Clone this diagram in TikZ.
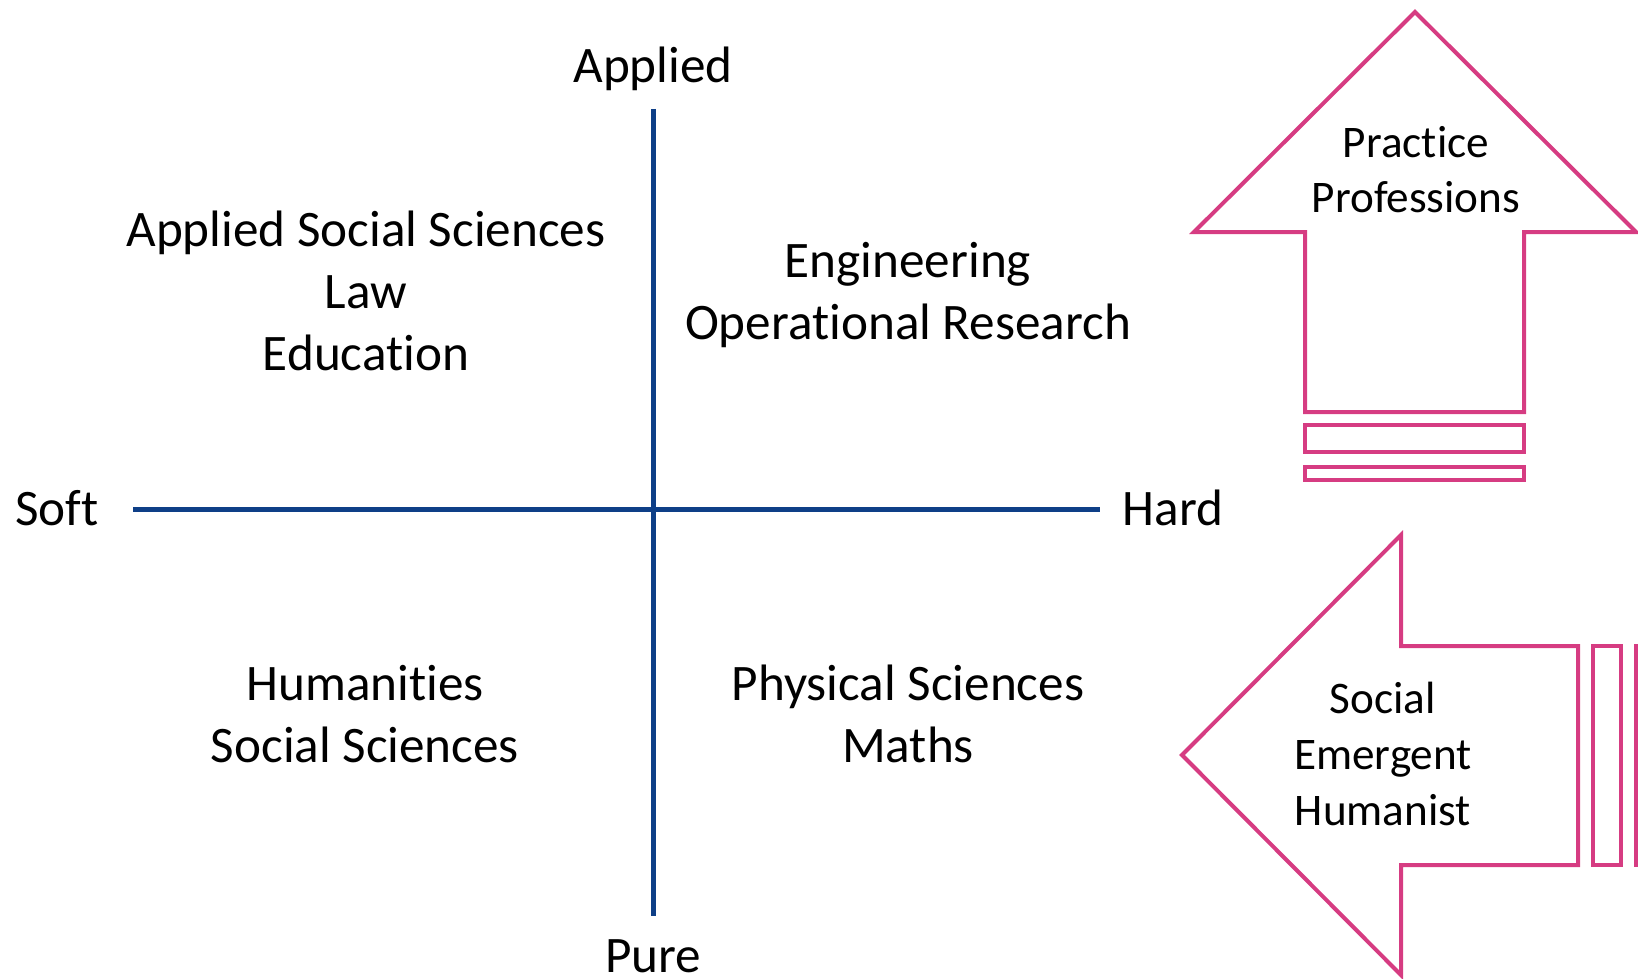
\documentclass[tikz,border=0pt]{standalone}
\usepackage{fontspec}
\setmainfont{Carlito}[Ligatures=NoCommon]
\usetikzlibrary{positioning}

\definecolor{axisblue}{RGB}{14,63,135}
\definecolor{arrowpink}{RGB}{214,60,130}

\tikzset{
  axis/.style={line width=2.5pt, draw=axisblue},
  label/.style={font=\fontsize{25.6}{31}\selectfont, align=center, anchor=base, inner sep=0pt},
  arrowbox/.style={line width=2pt, draw=arrowpink, line join=miter},
  arrowtext/.style={font=\fontsize{22.6}{28}\selectfont, align=center, anchor=base, inner sep=0pt}
}

\begin{document}
\begin{tikzpicture}[x=0.5pt, y=-0.5pt]
  \useasboundingbox (0,0) rectangle (1638,979);

  % axis ends
  \coordinate (top) at (653,109);
  \coordinate (bottom) at (653,916);
  \coordinate (left) at (133,509);
  \coordinate (right) at (1100,509);
  \draw[axis] (top) -- (bottom);
  \draw[axis] (left) -- (right);

  \node[label] (applied) at (653,83) {Applied};
  \node[label] (pure) at (653,972) {Pure};
  \node[label] (soft) at (57,525) {Soft};
  \node[label] (hard) at (1173,525) {Hard};

  % quadrants
  \node[label] (ulq) at (366,370) {Applied Social Sciences\\Law\\Education};
  \node[label] (urq) at (908,339) {Engineering\\Operational Research};
  \node[label] (llq) at (365,762) {Humanities\\Social Sciences};
  \node[label] (lrq) at (908,762) {Physical Sciences\\Maths};

  % striped up arrow
  \draw[arrowbox] (1415,12) -- (1636,232) -- (1524,232) -- (1524,412)
    -- (1305,412) -- (1305,232) -- (1194,232) -- cycle;
  \draw[arrowbox] (1305,425) rectangle (1524,452);
  \draw[arrowbox] (1305,467) rectangle (1524,480);
  \node[arrowtext] (practice) at (1416,213) {Practice\\Professions};

  % striped left arrow
  \draw[arrowbox] (1182,755) -- (1401,535) -- (1401,646) -- (1578,646)
    -- (1578,865) -- (1401,865) -- (1401,975) -- cycle;
  \draw[arrowbox] (1593,646) rectangle (1621,865);
  \draw[arrowbox] (1636,646) rectangle (1651,865);
  \node[arrowtext] (social) at (1383,825) {Social\\Emergent\\Humanist};
\end{tikzpicture}
\end{document}
